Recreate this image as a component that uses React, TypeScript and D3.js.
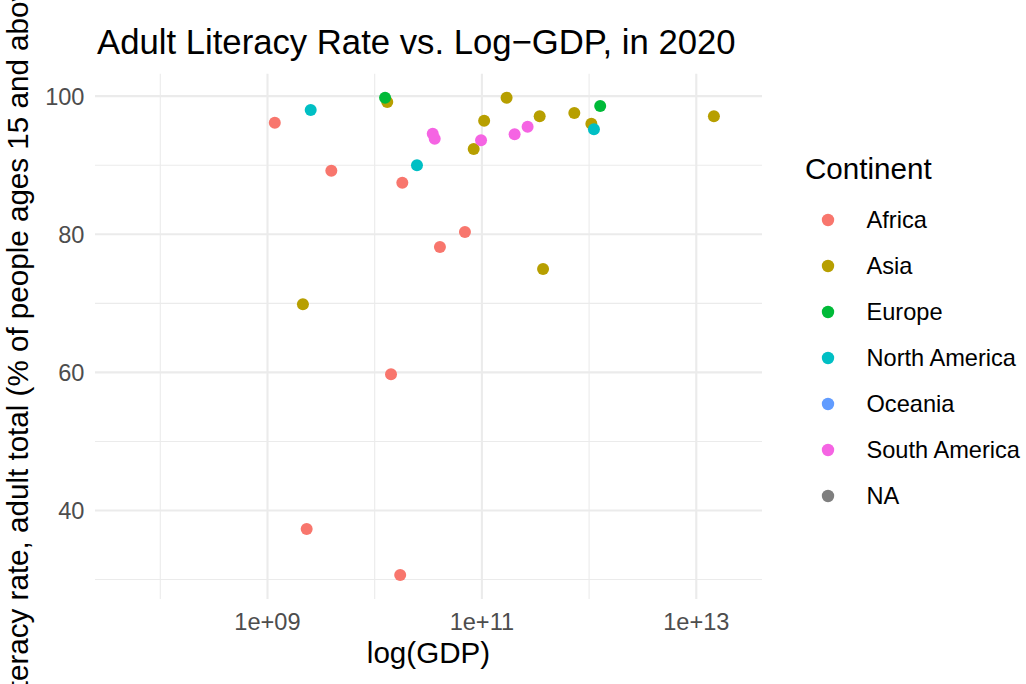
import React from "react";
import * as d3 from "d3";

const continents = ["Africa", "Asia", "Europe", "North America", "Oceania", "South America", "NA"];
const continentColors = ["#F8766D", "#B79F00", "#00BA38", "#00BFC4", "#619CFF", "#F564E3", "#7F7F7F"];

const africaGDP = [1.17e9, 3.94e9, 1.81e10, 6.95e10, 4.06e10, 1.42e10, 2.32e9, 1.73e10];
const africaLit = [96.16, 89.21, 87.47, 80.33, 78.16, 59.72, 37.32, 30.66];
const asiaGDP = [1.31e10, 2.14e9, 1.05e11, 8.39e10, 1.7e11, 3.46e11, 7.28e11, 1.05e12, 3.72e11, 1.46e13];
const asiaLit = [99.16, 69.86, 96.45, 92.35, 99.78, 97.09, 97.57, 96.02, 74.97, 97.09];
const europeGDP = [1.25e10, 1.27e12];
const europeLit = [99.78, 98.58];
const northAmericaGDP = [2.53e9, 2.48e10, 1.11e12];
const northAmericaLit = [98.0, 89.99, 95.21];
const southAmericaGDP = [3.48e10, 3.63e10, 9.82e10, 2.02e11, 2.67e11];
const southAmericaLit = [94.57, 93.84, 93.61, 94.48, 95.58];

const xMajorTicks = [1e9, 1e11, 1e13];
const xMajorLabels = ["1e+09", "1e+11", "1e+13"];
const xMinorTicks = [1e8, 1e10, 1e12];
const yMajorTicks = [40, 60, 80, 100];
const yMinorTicks = [30, 50, 70, 90];

const titleText = "Adult Literacy Rate vs. Log\u2212GDP, in 2020";
const xTitle = "log(GDP)";
const yTitle = "Literacy rate, adult total (% of people ages 15 and above)";
const legendTitle = "Continent";

const groups = [
  { c: "Africa", gdp: africaGDP, lit: africaLit },
  { c: "Asia", gdp: asiaGDP, lit: asiaLit },
  { c: "Europe", gdp: europeGDP, lit: europeLit },
  { c: "North America", gdp: northAmericaGDP, lit: northAmericaLit },
  { c: "South America", gdp: southAmericaGDP, lit: southAmericaLit },
];

export default function App() {
  const W = 1026, H = 684;
  const left = 95, right = 762, top = 73.8, bottom = 598.9;
  const x = d3.scaleLog().domain([Math.pow(10, 7.391), Math.pow(10, 13.613)]).range([left, right]);
  const y = d3.scaleLinear().domain([27.2, 103.24]).range([bottom, top]);
  const color = d3.scaleOrdinal<string, string>().domain(continents).range(continentColors);
  const font = "'Liberation Sans', Arial, Helvetica, sans-serif";
  const pts = groups.flatMap((g) => g.gdp.map((v, i) => ({ c: g.c, gdp: v, lit: g.lit[i] })));
  const midY = (top + bottom) / 2;
  const tickSize = 23.6;
  const axisTitleSize = 29.6;
  return (
    <svg width={W} height={H} style={{ position: "fixed", left: 0, top: 0, background: "#fff" }} fontFamily={font}>
      <rect x={0} y={0} width={W} height={H} fill="#fff" />
      {xMinorTicks.map((t) => (
        <line key={"xm" + t} x1={x(t)} x2={x(t)} y1={top} y2={bottom} stroke="#EBEBEB" strokeWidth={1.1} />
      ))}
      {yMinorTicks.map((t) => (
        <line key={"ym" + t} x1={left} x2={right} y1={y(t)} y2={y(t)} stroke="#EBEBEB" strokeWidth={1.1} />
      ))}
      {xMajorTicks.map((t) => (
        <line key={"xM" + t} x1={x(t)} x2={x(t)} y1={top} y2={bottom} stroke="#EBEBEB" strokeWidth={2.1} />
      ))}
      {yMajorTicks.map((t) => (
        <line key={"yM" + t} x1={left} x2={right} y1={y(t)} y2={y(t)} stroke="#EBEBEB" strokeWidth={2.1} />
      ))}
      {pts.map((p, i) => (
        <circle key={i} cx={x(p.gdp)} cy={y(p.lit)} r={6} fill={color(p.c)} />
      ))}
      {xMajorTicks.map((t, i) => (
        <text key={"xl" + t} x={x(t)} y={630} textAnchor="middle" fontSize={tickSize} fill="#4D4D4D">
          {xMajorLabels[i]}
        </text>
      ))}
      {yMajorTicks.map((t) => (
        <text key={"yl" + t} x={84.5} y={y(t) + 8.5} textAnchor="end" fontSize={tickSize} fill="#4D4D4D">
          {t}
        </text>
      ))}
      <text x={(left + right) / 2} y={663} textAnchor="middle" fontSize={axisTitleSize} fill="#000">
        {xTitle}
      </text>
      <text transform={`translate(28, ${midY}) rotate(-90)`} textAnchor="middle" fontSize={axisTitleSize} fill="#000">
        {yTitle}
      </text>
      <text x={97} y={54} fontSize={34.7} fill="#000">
        {titleText}
      </text>
      <text x={805} y={179} fontSize={axisTitleSize} fill="#000">
        {legendTitle}
      </text>
      {continents.map((c, i) => (
        <g key={c} transform={`translate(0, ${220 + i * 46})`}>
          <circle cx={828} cy={0} r={6.2} fill={color(c)} />
          <text x={866.5} y={7.8} fontSize={tickSize} fill="#000">
            {c}
          </text>
        </g>
      ))}
    </svg>
  );
}
